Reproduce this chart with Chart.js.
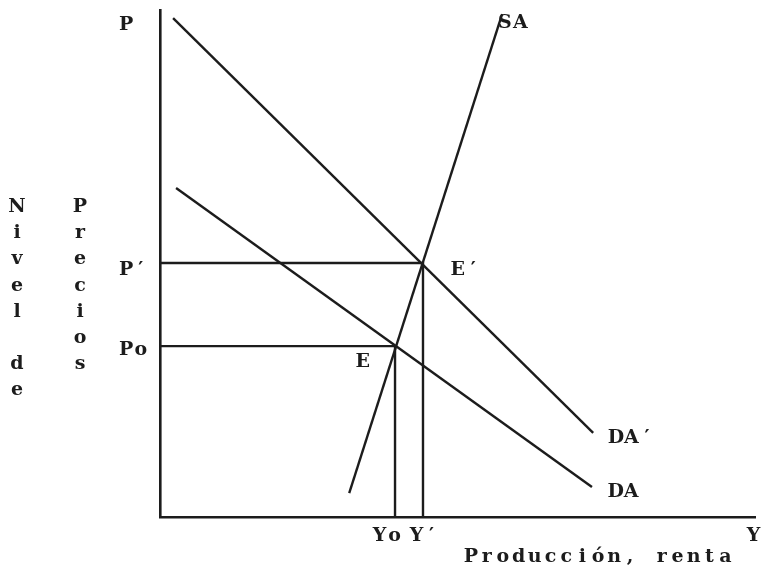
<!DOCTYPE html>
<html>
<head>
<meta charset="utf-8">
<script src="https://cdn.jsdelivr.net/npm/chart.js@4.4.1/dist/chart.umd.min.js"></script>
<style>
  html, body { margin: 0; padding: 0; background: #fff; }
  #wrap { width: 767px; height: 581px; }
</style>
</head>
<body>
<div id="wrap"><canvas id="adas-chart" width="767" height="581"></canvas></div>
<script>
  'use strict';

  // Tick labels on the axes
  const priceTicks = ['Po', 'P′', 'P'];
  const priceValues = [33.7, 50.1, 100];
  const outputTicks = ['Yo', 'Y′', 'Y'];
  const outputValues = [39.5, 44.2, 100];

  // Curves (end points)
  const curveNames = ['DA′', 'DA', 'SA'];
  const daPrimeX = [2.2, 72.8];
  const daPrimeY = [98.4, 16.6];
  const daX = [2.7, 72.6];
  const daY = [64.9, 5.9];
  const saX = [31.8, 57.5];
  const saY = [4.7, 99.2];

  // Equilibrium points
  const eqNames = ['E', 'E′'];
  const eqX = [39.5, 44.2];
  const eqY = [33.7, 50.1];

  const axisTitleX = 'Producción, renta';
  const axisTitleY1 = 'Nivel de';
  const axisTitleY2 = 'Precios';

  const INK = '#1c1c1c';
  const FONT = 'bold 19px "DejaVu Serif"';

  function toPoints(xs, ys) {
    return xs.map((x, i) => ({ x: x, y: ys[i] }));
  }

  function lineSet(label, data) {
    return {
      label: label,
      data: data,
      showLine: true,
      borderColor: INK,
      borderWidth: 2.4,
      pointRadius: 0,
      fill: false,
      clip: false
    };
  }

  // draw text one character per typewriter cell
  function typeText(ctx, text, left, baseline, pitch) {
    ctx.textAlign = 'center';
    Array.from(text).forEach((ch, i) => {
      ctx.fillText(ch, left + pitch * i + pitch / 2, baseline);
    });
  }

  const labelPlugin = {
    id: 'typedLabels',
    beforeDraw(chart) {
      const ctx = chart.ctx;
      ctx.save();
      ctx.fillStyle = '#fff';
      ctx.fillRect(0, 0, chart.width, chart.height);
      ctx.restore();
    },
    afterDatasetsDraw(chart) {
      const ctx = chart.ctx;
      const xs = chart.scales.x;
      const ys = chart.scales.y;
      ctx.save();
      ctx.fillStyle = INK;
      ctx.font = FONT;
      ctx.textBaseline = 'alphabetic';

      // price level ticks
      const yOffsets = [9, 12, 20];
      priceTicks.forEach((t, i) => {
        typeText(ctx, t, 119, ys.getPixelForValue(priceValues[i]) + yOffsets[i], 14.5);
      });

      // output ticks
      const xOffsets = [-23, -14, -9];
      outputTicks.forEach((t, i) => {
        typeText(ctx, t, xs.getPixelForValue(outputValues[i]) + xOffsets[i], ys.bottom + 24, 15);
      });

      // curve labels
      const ends = [
        { x: daPrimeX[1], y: daPrimeY[1], dx: 15, dy: 10 },
        { x: daX[1], y: daY[1], dx: 16, dy: 10 },
        { x: saX[1], y: saY[1], dx: -5, dy: 14 }
      ];
      curveNames.forEach((name, i) => {
        const e = ends[i];
        typeText(ctx, name, xs.getPixelForValue(e.x) + e.dx, ys.getPixelForValue(e.y) + e.dy, 15.5);
      });

      // equilibrium labels
      const eqOffsets = [{ dx: -40, dy: 21 }, { dx: 27, dy: 12 }];
      eqNames.forEach((name, i) => {
        typeText(ctx, name, xs.getPixelForValue(eqX[i]) + eqOffsets[i].dx,
          ys.getPixelForValue(eqY[i]) + eqOffsets[i].dy, 15.5);
      });

      // axis titles
      typeText(ctx, axisTitleX, 463, 562, 15.9);
      ctx.textAlign = 'center';
      Array.from(axisTitleY1).forEach((ch, i) => {
        ctx.fillText(ch, 17, 212 + 26.2 * i);
      });
      Array.from(axisTitleY2).forEach((ch, i) => {
        ctx.fillText(ch, 80, 212 + 26.2 * i);
      });
      ctx.restore();
    }
  };

  const guides = eqX.map((x, i) => lineSet('guide ' + eqNames[i], [
    { x: 0, y: eqY[i] },
    { x: x, y: eqY[i] },
    { x: x, y: 0 }
  ]));

  const canvas = document.getElementById('adas-chart');
  new Chart(canvas.getContext('2d'), {
    type: 'scatter',
    data: {
      datasets: [
        lineSet(curveNames[0], toPoints(daPrimeX, daPrimeY)),
        lineSet(curveNames[1], toPoints(daX, daY)),
        lineSet(curveNames[2], toPoints(saX, saY))
      ].concat(guides)
    },
    options: {
      responsive: false,
      animation: false,
      devicePixelRatio: 1,
      layout: {
        padding: { left: 160, right: 12, top: 10, bottom: 64 }
      },
      plugins: {
        legend: { display: false },
        tooltip: { enabled: false },
        title: { display: false }
      },
      scales: {
        x: {
          type: 'linear',
          min: 0,
          max: 100,
          grid: { display: false, drawTicks: false },
          border: { display: true, color: INK, width: 2.6 },
          ticks: { display: false }
        },
        y: {
          type: 'linear',
          min: 0,
          max: 100,
          grid: { display: false, drawTicks: false },
          border: { display: true, color: INK, width: 2.6 },
          ticks: { display: false }
        }
      }
    },
    plugins: [labelPlugin]
  });
</script>
</body>
</html>
